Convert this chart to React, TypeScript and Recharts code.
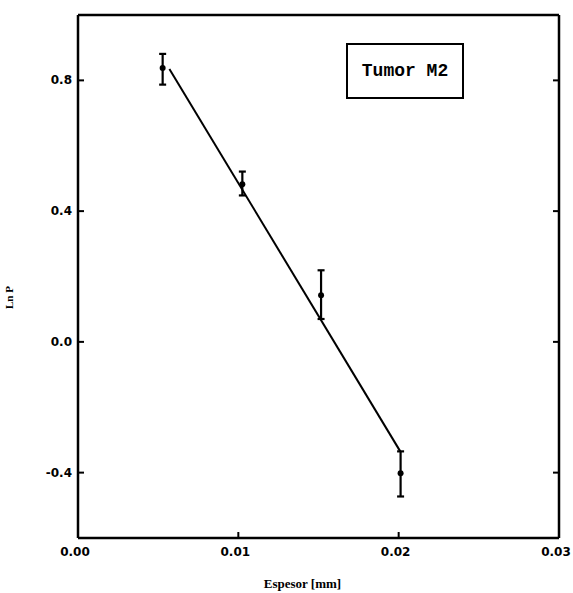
import {
  ComposedChart,
  Scatter,
  Line,
  XAxis,
  YAxis,
  ErrorBar,
  Legend,
  Label,
} from "recharts";

// measured points (Ln P vs thickness)
const espesor = [0.00528, 0.01025, 0.01516, 0.02012];
const lnP = [0.838, 0.482, 0.143, -0.402];
const errLow = [0.051, 0.034, 0.073, 0.071];
const errHigh = [0.043, 0.039, 0.076, 0.067];

// fitted line end points
const fitX = [0.0057, 0.0201];
const fitY = [0.835, -0.335];

const xTicks = [0, 0.01, 0.02, 0.03];
const yTicks = [-0.4, 0, 0.4, 0.8];

const points = espesor.map((x, i) => ({
  x,
  y: lnP[i],
  err: [errLow[i], errHigh[i]],
}));
const fit = fitX.map((x, i) => ({ x, y: fitY[i] }));

const TICK_FONT = {
  fontFamily: "'DejaVu Sans', sans-serif",
  fontWeight: 700,
  fontSize: 12,
  fill: "#000",
};

function BottomTick({ x, y, payload }: any) {
  return (
    <g>
      <line x1={x} y1={y} x2={x} y2={y - 6} stroke="#000" strokeWidth={2} />
      <text x={x - 3} y={y + 18} textAnchor="middle" {...TICK_FONT}>
        {payload.value.toFixed(2)}
      </text>
    </g>
  );
}

function LeftTick({ x, y, payload }: any) {
  return (
    <g>
      <line x1={x} y1={y} x2={x + 6} y2={y} stroke="#000" strokeWidth={2} />
      <text x={x - 6} y={y + 4} textAnchor="end" {...TICK_FONT}>
        {payload.value.toFixed(1)}
      </text>
    </g>
  );
}

function RightTick({ x, y }: any) {
  return <line x1={x} y1={y} x2={x - 6} y2={y} stroke="#000" strokeWidth={2} />;
}

function Dot({ cx, cy }: any) {
  return <circle cx={cx} cy={cy} r={3} fill="#000" />;
}

function YLabel({ viewBox }: any) {
  const cx = 9;
  const cy = viewBox.y + viewBox.height / 2 + 21;
  return (
    <text
      x={cx}
      y={cy}
      transform={`rotate(-90 ${cx} ${cy})`}
      textAnchor="middle"
      dominantBaseline="central"
      fontFamily="'Liberation Serif', serif"
      fontWeight={700}
      fontSize={11}
      fill="#000"
    >
      Ln P
    </text>
  );
}

function TitleBox() {
  return (
    <div
      style={{
        boxSizing: "border-box",
        width: 118,
        height: 56,
        border: "2px solid #000",
        display: "flex",
        alignItems: "center",
        justifyContent: "center",
        fontFamily: "'Liberation Mono', monospace",
        fontWeight: 700,
        fontSize: 18,
        color: "#000",
      }}
    >
      Tumor M2
    </div>
  );
}

export default function App() {
  return (
    <div style={{ position: "absolute", left: 0, top: 0, background: "#fff" }}>
      <ComposedChart
        width={573}
        height={593}
        margin={{ top: 14, right: 13, left: 0, bottom: 0 }}
      >
        <XAxis
          dataKey="x"
          type="number"
          domain={[0, 0.03]}
          ticks={xTicks}
          height={55}
          tickSize={0}
          tickMargin={0}
          tickLine={false}
          tick={<BottomTick />}
          axisLine={{ stroke: "#000", strokeWidth: 2.5 }}
          allowDataOverflow
        >
          <Label
            value="Espesor [mm]"
            position="insideBottom"
            offset={5}
            dx={-16}
            style={{
              fontFamily: "'Liberation Serif', serif",
              fontWeight: 700,
              fontSize: 13,
              fill: "#000",
            }}
          />
        </XAxis>
        <XAxis
          xAxisId="top"
          dataKey="x"
          orientation="top"
          type="number"
          domain={[0, 0.03]}
          ticks={xTicks}
          height={1}
          tick={false}
          tickLine={false}
          axisLine={{ stroke: "#000", strokeWidth: 2.5 }}
          allowDataOverflow
        />
        <YAxis
          type="number"
          domain={[-0.6, 1.0]}
          ticks={yTicks}
          width={78}
          tickSize={0}
          tickMargin={0}
          tickLine={false}
          tick={<LeftTick />}
          axisLine={{ stroke: "#000", strokeWidth: 2.5 }}
          allowDataOverflow
          label={{ content: <YLabel /> }}
        />
        <YAxis
          yAxisId="right"
          orientation="right"
          type="number"
          domain={[-0.6, 1.0]}
          ticks={yTicks}
          width={1}
          tickSize={0}
          tickMargin={0}
          tickLine={false}
          tick={<RightTick />}
          axisLine={{ stroke: "#000", strokeWidth: 2.5 }}
          allowDataOverflow
        />
        <Line
          data={fit}
          xAxisId="top"
          yAxisId="right"
          dataKey="y"
          type="linear"
          stroke="#000"
          strokeWidth={2}
          dot={false}
          activeDot={false}
          isAnimationActive={false}
        />
        <Scatter data={points} dataKey="y" shape={<Dot />} isAnimationActive={false}>
          <ErrorBar
            dataKey="err"
            direction="y"
            width={3.5}
            stroke="#000"
            strokeWidth={2.2}
            isAnimationActive={false}
          />
        </Scatter>
        <Legend
          layout="horizontal"
          verticalAlign="middle"
          align="center"
          wrapperStyle={{ left: 346, top: 43, width: 118 }}
          content={() => <TitleBox />}
        />
      </ComposedChart>
    </div>
  );
}
